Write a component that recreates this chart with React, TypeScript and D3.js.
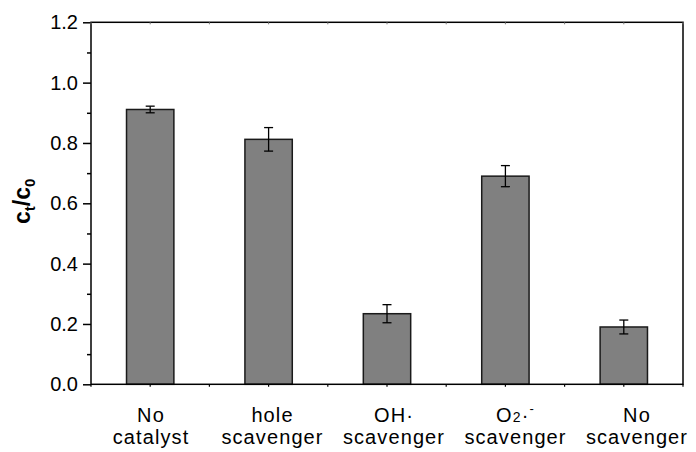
import React, { useEffect, useRef } from 'react';
import * as d3 from 'd3';

const categories = ['nocat', 'hole', 'oh', 'o2', 'noscav'];
const values = [0.911, 0.812, 0.234, 0.69, 0.19];
const errors = [0.011, 0.039, 0.03, 0.035, 0.023];
const yTicks = [0, 0.2, 0.4, 0.6, 0.8, 1.0, 1.2];
const yMinorTicks = [0.1, 0.3, 0.5, 0.7, 0.9, 1.1];

const App = () => {
  const ref = useRef<SVGSVGElement>(null);

  useEffect(() => {
    const svg = d3.select(ref.current);
    svg.selectAll('*').remove();

    const left = 91;
    const right = 683;
    const top = 22.3;
    const bottom = 384.3;

    const x = d3
      .scaleBand<string>()
      .domain(categories)
      .range([left, right])
      .paddingInner(0.6)
      .paddingOuter(0.3);

    const y = d3.scaleLinear().domain([0, 1.2]).range([bottom, top]);

    const font = 'Liberation Sans, Arial, sans-serif';

    // bars
    svg
      .append('g')
      .selectAll('rect')
      .data(categories)
      .join('rect')
      .attr('x', d => x(d)!)
      .attr('y', (d, i) => y(values[i]))
      .attr('width', x.bandwidth())
      .attr('height', (d, i) => bottom - y(values[i]))
      .attr('fill', '#808080')
      .attr('stroke', '#1a1a1a')
      .attr('stroke-width', 1.5);

    // error bars
    const eb = svg.append('g').attr('stroke', '#000').attr('stroke-width', 1.3);
    categories.forEach((c, i) => {
      const cx = x(c)! + x.bandwidth() / 2;
      const y1 = y(values[i] + errors[i]);
      const y2 = y(values[i] - errors[i]);
      eb.append('line').attr('x1', cx).attr('x2', cx).attr('y1', y1).attr('y2', y2);
      eb.append('line').attr('x1', cx - 4.5).attr('x2', cx + 4.5).attr('y1', y1).attr('y2', y1);
      eb.append('line').attr('x1', cx - 4.5).attr('x2', cx + 4.5).attr('y1', y2).attr('y2', y2);
    });

    // frame
    svg
      .append('rect')
      .attr('x', left)
      .attr('y', top)
      .attr('width', right - left)
      .attr('height', bottom - top)
      .attr('fill', 'none')
      .attr('stroke', '#000')
      .attr('stroke-width', 1.5);

    // y axis
    const yAxis = d3
      .axisLeft(y)
      .tickValues(yTicks)
      .tickSize(8)
      .tickPadding(5)
      .tickFormat(d3.format('.1f'));
    const yg = svg.append('g').attr('transform', `translate(${left},0)`).call(yAxis);
    yg.select('.domain').remove();
    yg.selectAll('line').attr('stroke-width', 1.5);
    yg.selectAll('text').attr('font-family', font).attr('font-size', 20).attr('fill', '#000');

    const ym = d3.axisLeft(y).tickValues(yMinorTicks).tickSize(4).tickFormat(() => '');
    const ymg = svg.append('g').attr('transform', `translate(${left},0)`).call(ym);
    ymg.select('.domain').remove();
    ymg.selectAll('line').attr('stroke-width', 1.5);

    // x axis small ticks
    const centers = categories.map(c => x(c)! + x.bandwidth() / 2);
    const step = x.step();
    const xt = [left, ...centers, ...centers.map(v => v + step / 2)];
    svg
      .append('g')
      .selectAll('line')
      .data(xt)
      .join('line')
      .attr('x1', d => d)
      .attr('x2', d => d)
      .attr('y1', bottom)
      .attr('y2', bottom + 2.5)
      .attr('stroke', '#000')
      .attr('stroke-width', 1.2);
    svg
      .append('g')
      .selectAll('line')
      .data(xt)
      .join('line')
      .attr('x1', d => d)
      .attr('x2', d => d)
      .attr('y1', top)
      .attr('y2', top + 2)
      .attr('stroke', '#777')
      .attr('stroke-width', 1);

    // x labels (label row is spaced a little wider than the bars)
    const lx = d3.scaleLinear().domain([0, categories.length - 1]).range([151, 637]);
    const lab = svg
      .append('g')
      .attr('font-family', font)
      .attr('font-size', 20)
      .attr('letter-spacing', 1.1)
      .attr('text-anchor', 'middle')
      .attr('fill', '#000');
    const line1 = 422;
    const line2 = 444;
    const addLine = (c: string, yy: number, t: string) =>
      lab.append('text').attr('x', lx(categories.indexOf(c))).attr('y', yy).text(t);

    addLine('nocat', line1, 'No');
    addLine('nocat', line2, 'catalyst');
    addLine('hole', line1, 'hole');
    addLine('hole', line2, 'scavenger');
    addLine('oh', line1, 'OH·');
    addLine('oh', line2, 'scavenger');
    const o2 = lab.append('text').attr('x', lx(categories.indexOf('o2'))).attr('y', line1);
    o2.append('tspan').text('O');
    o2.append('tspan').attr('font-size', 14).text('2');
    o2.append('tspan').text('·');
    o2.append('tspan').attr('font-size', 13).attr('dy', -9).text('-');
    addLine('o2', line2, 'scavenger');
    addLine('noscav', line1, 'No');
    addLine('noscav', line2, 'scavenger');

    // y label
    const yl = svg
      .append('text')
      .attr('transform', `translate(30,${(top + bottom) / 2 - 2}) rotate(-90)`)
      .attr('text-anchor', 'middle')
      .attr('font-family', font)
      .attr('font-weight', 'bold')
      .attr('font-size', 23)
      .attr('fill', '#000');
    yl.append('tspan').text('c');
    yl.append('tspan').attr('font-size', 15).attr('dy', 5).text('t');
    yl.append('tspan').attr('dy', -5).text('/c');
    yl.append('tspan').attr('font-size', 15).attr('dy', 5).text('0');
  }, []);

  return (
    <svg
      ref={ref}
      width={696}
      height={452}
      style={{ position: 'absolute', left: 0, top: 0, background: '#fff' }}
    />
  );
};

export default App;
